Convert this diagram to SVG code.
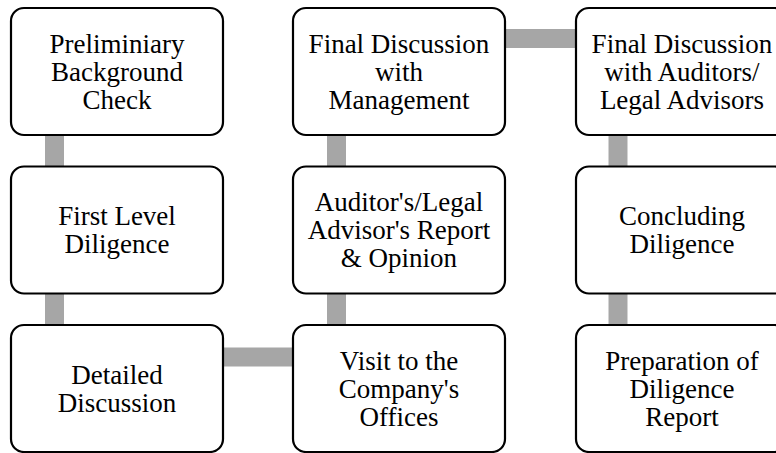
<svg xmlns="http://www.w3.org/2000/svg" width="776" height="453" viewBox="0 0 776 453">
<style>
.box{fill:#fff;stroke:#000;stroke-width:2.2}
.conn{stroke:#A6A6A6;stroke-width:19;fill:none}
text{font-family:"Liberation Serif","Times New Roman",serif;font-size:27px;fill:#000;text-anchor:middle}
</style>
<rect width="776" height="453" fill="#fff"/>
<g id="connectors">
<line class="conn" x1="54.5" y1="135" x2="54.5" y2="167"/>
<line class="conn" x1="54.5" y1="294" x2="54.5" y2="326"/>
<line class="conn" x1="223" y1="357" x2="294" y2="357"/>
<line class="conn" x1="336.5" y1="294" x2="336.5" y2="326"/>
<line class="conn" x1="336.5" y1="135" x2="336.5" y2="167"/>
<line class="conn" x1="505" y1="38.5" x2="577" y2="38.5"/>
<line class="conn" x1="618" y1="135" x2="618" y2="167"/>
<line class="conn" x1="618" y1="294" x2="618" y2="326"/>
</g>
<g id="n1"><rect class="box" x="11" y="8" width="212" height="127" rx="13"/>
<text x="117"><tspan x="117" y="52.5">Preliminiary</tspan><tspan x="117" y="80.5">Background</tspan><tspan x="117" y="108.5">Check</tspan></text></g>
<g id="n2"><rect class="box" x="11" y="166.5" width="212" height="127" rx="13"/>
<text x="117"><tspan x="117" y="225">First Level</tspan><tspan x="117" y="253">Diligence</tspan></text></g>
<g id="n3"><rect class="box" x="11" y="325" width="212" height="127" rx="13"/>
<text x="117"><tspan x="117" y="383.5">Detailed</tspan><tspan x="117" y="411.5">Discussion</tspan></text></g>
<g id="n4"><rect class="box" x="293" y="325" width="212" height="127" rx="13"/>
<text x="399"><tspan x="399" y="369.5">Visit to the</tspan><tspan x="399" y="397.5">Company's</tspan><tspan x="399" y="425.5">Offices</tspan></text></g>
<g id="n5"><rect class="box" x="293" y="166.5" width="212" height="127" rx="13"/>
<text x="399"><tspan x="399" y="211">Auditor's/Legal</tspan><tspan x="399" y="239">Advisor's Report</tspan><tspan x="399" y="267">&amp; Opinion</tspan></text></g>
<g id="n6"><rect class="box" x="293" y="8" width="212" height="127" rx="13"/>
<text x="399"><tspan x="399" y="52.5">Final Discussion</tspan><tspan x="399" y="80.5">with</tspan><tspan x="399" y="108.5">Management</tspan></text></g>
<g id="n7"><rect class="box" x="576" y="8" width="212" height="127" rx="13"/>
<text x="682"><tspan x="682" y="52.5">Final Discussion</tspan><tspan x="682" y="80.5">with Auditors/</tspan><tspan x="682" y="108.5">Legal Advisors</tspan></text></g>
<g id="n8"><rect class="box" x="576" y="166.5" width="212" height="127" rx="13"/>
<text x="682"><tspan x="682" y="225">Concluding</tspan><tspan x="682" y="253">Diligence</tspan></text></g>
<g id="n9"><rect class="box" x="576" y="325" width="212" height="127" rx="13"/>
<text x="682"><tspan x="682" y="369.5">Preparation of</tspan><tspan x="682" y="397.5">Diligence</tspan><tspan x="682" y="425.5">Report</tspan></text></g>
</svg>
